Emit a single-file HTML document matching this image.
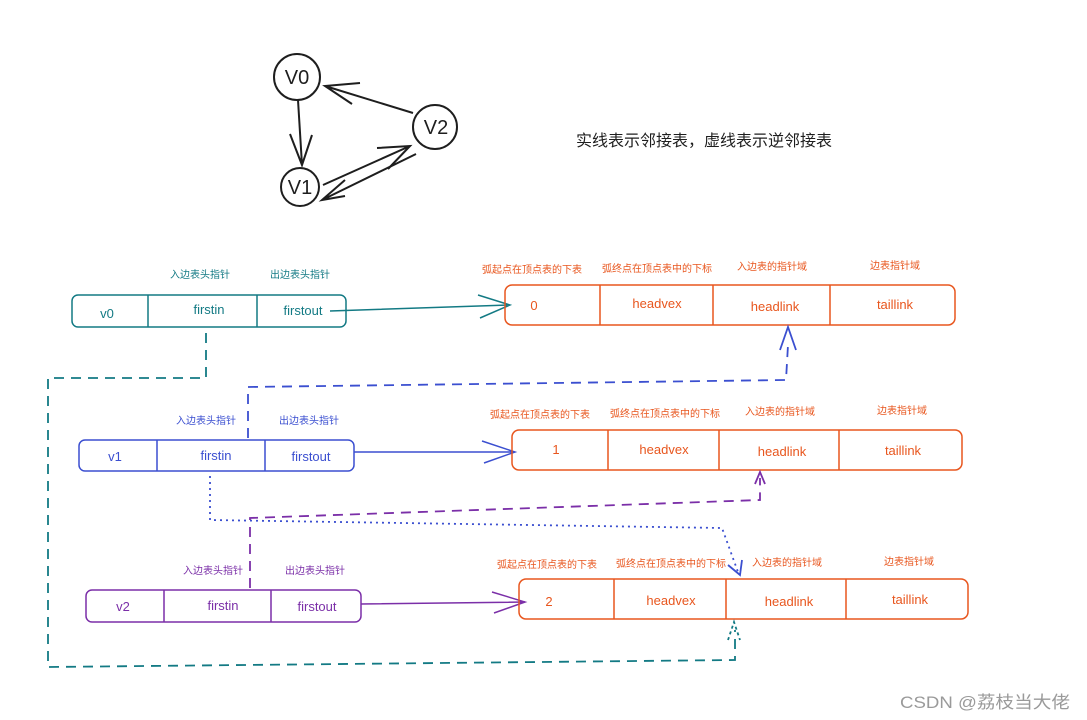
<!DOCTYPE html>
<html><head><meta charset="utf-8"><style>
html,body{margin:0;padding:0;background:#fff;}
svg{display:block;}
text{font-family:"Liberation Sans","Noto Sans CJK SC",sans-serif;}
.hw{font-family:"Liberation Sans",sans-serif;font-size:13px;}
.lb{font-size:10px;}
</style></head><body>
<svg width="1087" height="720" viewBox="0 0 1087 720" xmlns="http://www.w3.org/2000/svg">
<g stroke="#1e1e1e" stroke-width="2" fill="none">
<circle cx="297" cy="77" r="23"/>
<circle cx="435" cy="127" r="22"/>
<circle cx="300" cy="187" r="19"/>
<path d="M298 100 L302 165 M290 134 L302 165 L312 135"/>
<path d="M413 113 L325 86 M360 83 L325 86 L352 104"/>
<path d="M323 185 L410 146 M377 148 L410 146 L388 169"/>
<path d="M416 154 L322 200 M345 196 L322 200 L345 180"/>
</g>
<g font-size="20" fill="#1e1e1e" text-anchor="middle">
<text x="297" y="84">V0</text>
<text x="436" y="134">V2</text>
<text x="300" y="194">V1</text>
</g>
<text x="576" y="146" font-size="16" fill="#1e1e1e">实线表示邻接表，虚线表示逆邻接表</text>

<g stroke="#137a84" stroke-width="1.5" fill="none">
<rect x="72" y="295" width="274" height="32" rx="6"/>
<path d="M148 295 V327 M257 295 V327"/>
<path d="M330 311 L510 305 M478 295 L510 305 L480 318"/>
</g>
<g fill="#137a84" text-anchor="middle">
<text class="lb" x="200" y="278">入边表头指针</text>
<text class="lb" x="300" y="278">出边表头指针</text>
<text class="hw" x="107" y="318">v0</text>
<text class="hw" x="209" y="314">firstin</text>
<text class="hw" x="303" y="315">firstout</text>
</g>

<g stroke="#3b4fd0" stroke-width="1.5" fill="none">
<rect x="79" y="440" width="275" height="31" rx="6"/>
<path d="M157 440 V471 M265 440 V471"/>
<path d="M354 452 L515 452 M482 441 L515 452 L484 463"/>
</g>
<g fill="#3b4fd0" text-anchor="middle">
<text class="lb" x="206" y="424">入边表头指针</text>
<text class="lb" x="309" y="424">出边表头指针</text>
<text class="hw" x="115" y="461">v1</text>
<text class="hw" x="216" y="460">firstin</text>
<text class="hw" x="311" y="461">firstout</text>
</g>

<g stroke="#7b2fa8" stroke-width="1.5" fill="none">
<rect x="86" y="590" width="275" height="32" rx="6"/>
<path d="M164 590 V622 M271 590 V622"/>
<path d="M361 604 L525 602 M492 592 L525 602 L494 613"/>
</g>
<g fill="#7b2fa8" text-anchor="middle">
<text class="lb" x="213" y="574">入边表头指针</text>
<text class="lb" x="315" y="574">出边表头指针</text>
<text class="hw" x="123" y="611">v2</text>
<text class="hw" x="223" y="610">firstin</text>
<text class="hw" x="317" y="611">firstout</text>
</g>

<g stroke="#e8561e" stroke-width="1.5" fill="none">
<rect x="505" y="285" width="450" height="40" rx="7"/>
<path d="M600 285 V325 M713 285 V325 M830 285 V325"/>
<rect x="512" y="430" width="450" height="40" rx="7"/>
<path d="M608 430 V470 M719 430 V470 M839 430 V470"/>
<rect x="519" y="579" width="449" height="40" rx="7"/>
<path d="M614 579 V619 M726 579 V619 M846 579 V619"/>
</g>
<g fill="#e8561e" text-anchor="middle">
<text class="lb" x="532" y="273">弧起点在顶点表的下表</text>
<text class="lb" x="657" y="272">弧终点在顶点表中的下标</text>
<text class="lb" x="772" y="270">入边表的指针域</text>
<text class="lb" x="895" y="269">边表指针域</text>
<text class="hw" x="534" y="310">0</text>
<text class="hw" x="657" y="308">headvex</text>
<text class="hw" x="775" y="311">headlink</text>
<text class="hw" x="895" y="309">taillink</text>

<text class="lb" x="540" y="418">弧起点在顶点表的下表</text>
<text class="lb" x="665" y="417">弧终点在顶点表中的下标</text>
<text class="lb" x="780" y="415">入边表的指针域</text>
<text class="lb" x="902" y="414">边表指针域</text>
<text class="hw" x="556" y="454">1</text>
<text class="hw" x="664" y="454">headvex</text>
<text class="hw" x="782" y="456">headlink</text>
<text class="hw" x="903" y="455">taillink</text>

<text class="lb" x="547" y="568">弧起点在顶点表的下表</text>
<text class="lb" x="671" y="567">弧终点在顶点表中的下标</text>
<text class="lb" x="787" y="566">入边表的指针域</text>
<text class="lb" x="909" y="565">边表指针域</text>
<text class="hw" x="549" y="606">2</text>
<text class="hw" x="671" y="605">headvex</text>
<text class="hw" x="789" y="606">headlink</text>
<text class="hw" x="910" y="604">taillink</text>
</g>

<g fill="none" stroke-width="1.8">
<path stroke="#137a84" stroke-dasharray="10,7" d="M206 333 V378 H48 V667 L735 660 V630"/>
<path stroke="#137a84" stroke-dasharray="3,3" d="M728 640 L734 622 L740 640"/>
<path stroke="#3b4fd0" stroke-dasharray="10,7" d="M248 438 V387 L786 380 L788 345"/>
<path stroke="#3b4fd0" d="M780 350 L788 327 L796 350"/>
<path stroke="#3b4fd0" stroke-dasharray="2,4" d="M210 476 V520 L722 528 L738 572"/>
<path stroke="#3b4fd0" d="M728 565 L740 575 L742 560"/>
<path stroke="#7b2fa8" stroke-dasharray="10,7" d="M250 588 V518 L760 500 V478"/>
<path stroke="#7b2fa8" d="M755 484 L760 472 L765 484"/>
</g>

<text x="900" y="708" font-size="17" fill="#9a9a9a" textLength="170" lengthAdjust="spacingAndGlyphs">CSDN @荔枝当大佬</text>
</svg>
</body></html>
